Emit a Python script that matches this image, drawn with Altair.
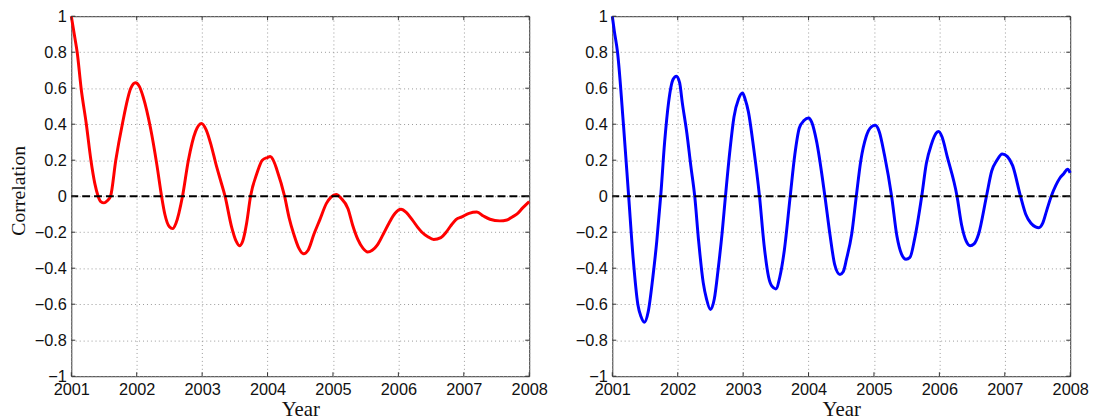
import altair as alt
import pandas as pd

# ---- data ----
red_year = [2001.00, 2001.05, 2001.09, 2001.15, 2001.23, 2001.30, 2001.36, 2001.41, 2001.45, 2001.50,
            2001.55, 2001.60, 2001.68, 2001.78, 2001.91, 2001.98, 2002.04, 2002.10, 2002.21, 2002.31,
            2002.38, 2002.43, 2002.50, 2002.55, 2002.60, 2002.70, 2002.79, 2002.90, 2002.99, 2003.06,
            2003.14, 2003.21, 2003.28, 2003.35, 2003.45, 2003.52, 2003.57, 2003.62, 2003.68, 2003.74,
            2003.84, 2003.92, 2004.00, 2004.04, 2004.10, 2004.14, 2004.26, 2004.33, 2004.40, 2004.48,
            2004.55, 2004.62, 2004.71, 2004.80, 2004.90, 2004.97, 2005.05, 2005.12, 2005.23, 2005.30,
            2005.38, 2005.46, 2005.53, 2005.60, 2005.68, 2005.77, 2005.86, 2005.95, 2006.04, 2006.12,
            2006.21, 2006.29, 2006.36, 2006.45, 2006.54, 2006.65, 2006.73, 2006.80, 2006.88, 2006.97,
            2007.08, 2007.20, 2007.30, 2007.40, 2007.55, 2007.66, 2007.74, 2007.81, 2007.90, 2008.00]
red_corr = [1.00, 0.89, 0.80, 0.60, 0.40, 0.20, 0.07, 0.00, -0.03, -0.037,
            -0.025, 0.00, 0.20, 0.40, 0.60, 0.63, 0.61, 0.55, 0.38, 0.17,
            0.00, -0.10, -0.17, -0.18, -0.15, 0.00, 0.20, 0.36, 0.404, 0.37,
            0.28, 0.18, 0.09, 0.00, -0.17, -0.25, -0.275, -0.25, -0.15, 0.00,
            0.13, 0.20, 0.215, 0.22, 0.19, 0.15, 0.00, -0.12, -0.21, -0.29,
            -0.32, -0.30, -0.21, -0.13, -0.04, -0.005, 0.01, -0.01, -0.07, -0.16,
            -0.24, -0.29, -0.31, -0.30, -0.27, -0.21, -0.147, -0.095, -0.073, -0.09,
            -0.13, -0.17, -0.20, -0.225, -0.24, -0.23, -0.20, -0.165, -0.13, -0.115,
            -0.095, -0.088, -0.11, -0.128, -0.137, -0.132, -0.115, -0.10, -0.065, -0.03]

blue_year = [2001.00, 2001.03, 2001.08, 2001.17, 2001.25, 2001.32, 2001.39, 2001.44, 2001.49, 2001.55,
             2001.62, 2001.68, 2001.74, 2001.80, 2001.86, 2001.93, 2001.98, 2002.03, 2002.07, 2002.14,
             2002.20, 2002.26, 2002.32, 2002.39, 2002.44, 2002.50, 2002.56, 2002.62, 2002.68, 2002.73,
             2002.80, 2002.86, 2002.93, 2002.99, 2003.03, 2003.08, 2003.16, 2003.25, 2003.32, 2003.39,
             2003.44, 2003.50, 2003.56, 2003.63, 2003.72, 2003.79, 2003.86, 2003.93, 2004.00, 2004.05,
             2004.12, 2004.25, 2004.33, 2004.40, 2004.48, 2004.53, 2004.58, 2004.66, 2004.73, 2004.80,
             2004.88, 2004.96, 2005.02, 2005.08, 2005.16, 2005.27, 2005.35, 2005.42, 2005.49, 2005.55,
             2005.62, 2005.73, 2005.80, 2005.88, 2005.95, 2005.99, 2006.04, 2006.12, 2006.27, 2006.34,
             2006.41, 2006.47, 2006.53, 2006.60, 2006.72, 2006.80, 2006.88, 2006.96, 2007.04, 2007.12,
             2007.24, 2007.32, 2007.40, 2007.47, 2007.52, 2007.58, 2007.64, 2007.71, 2007.78, 2007.84,
             2007.90, 2007.96, 2008.00]
blue_corr = [1.00, 0.92, 0.80, 0.40, 0.00, -0.35, -0.60, -0.67, -0.70, -0.64,
             -0.45, -0.25, 0.00, 0.30, 0.52, 0.65, 0.667, 0.63, 0.52, 0.35,
             0.17, 0.00, -0.25, -0.48, -0.57, -0.63, -0.57, -0.40, -0.20, 0.00,
             0.26, 0.44, 0.54, 0.573, 0.54, 0.47, 0.27, 0.00, -0.27, -0.45,
             -0.50, -0.515, -0.45, -0.30, 0.00, 0.23, 0.38, 0.42, 0.435, 0.41,
             0.31, 0.00, -0.22, -0.38, -0.435, -0.42, -0.35, -0.21, 0.00, 0.20,
             0.33, 0.385, 0.394, 0.36, 0.23, 0.00, -0.22, -0.32, -0.35, -0.34,
             -0.24, 0.00, 0.18, 0.29, 0.35, 0.36, 0.33, 0.22, 0.00, -0.16,
             -0.25, -0.275, -0.265, -0.21, 0.00, 0.14, 0.20, 0.235, 0.22, 0.17,
             0.00, -0.10, -0.15, -0.17, -0.175, -0.15, -0.08, 0.00, 0.06, 0.10,
             0.125, 0.15, 0.13]

year_ticks = [2001, 2002, 2003, 2004, 2005, 2006, 2007, 2008]
corr_ticks = [-1.0, -0.8, -0.6, -0.4, -0.2, 0.0, 0.2, 0.4, 0.6, 0.8, 1.0]
zero_level = [0.0]

PW, PH = 463, 364
LABEL_FONT = "Liberation Sans"
TITLE_FONT = "Liberation Serif"

COMMON_AXIS = dict(
    grid=True, ticks=False, domain=False,
    gridDash=[1, 3], gridColor="#999999", gridWidth=1,
    labelOverlap=False, labelFlush=False,
    labelFont=LABEL_FONT, labelFontSize=16.5, labelColor="#111",
    titleFont=TITLE_FONT, titleFontWeight="normal", titleColor="#111",
)


def panel(years, corr, color, with_title):
    df = pd.DataFrame({"year": years, "corr": corr})
    xscale = alt.Scale(domain=[2001, 2008], nice=False, zero=False)
    yscale = alt.Scale(domain=[-1, 1], nice=False, zero=False)
    yaxis_kw = dict(COMMON_AXIS, values=corr_ticks, format=".1~f", minExtent=36,
                    maxExtent=36, labelPadding=5)
    if with_title:
        yaxis_kw.update(title="Correlation", titlePadding=7, titleY=176, titleFontSize=20)
    else:
        yaxis_kw.update(title=None)
    xaxis = alt.Axis(**dict(COMMON_AXIS, values=year_ticks, format="d", title="Year",
                            titleFontSize=21, labelPadding=6, titlePadding=0))
    yaxis = alt.Axis(**yaxis_kw)
    line = alt.Chart(df).mark_line(color=color, strokeWidth=3, interpolate="monotone").encode(
        x=alt.X("year:Q", scale=xscale, axis=xaxis),
        y=alt.Y("corr:Q", scale=yscale, axis=yaxis),
    )
    zero = alt.Chart(pd.DataFrame({"z": zero_level})).mark_rule(
        color="black", strokeWidth=2, strokeDash=[8, 4]).encode(
        y=alt.Y("z:Q", scale=yscale, axis=yaxis))
    xt = pd.DataFrame({"t": year_ticks})
    yt = pd.DataFrame({"t": corr_ticks})
    tick_top = alt.Chart(xt).mark_rule(color="#333").encode(
        x=alt.X("t:Q", scale=xscale, axis=xaxis), y=alt.value(0), y2=alt.value(4))
    tick_bot = alt.Chart(xt).mark_rule(color="#333").encode(
        x=alt.X("t:Q", scale=xscale, axis=xaxis), y=alt.value(PH - 4), y2=alt.value(PH))
    tick_left = alt.Chart(yt).mark_rule(color="#333").encode(
        y=alt.Y("t:Q", scale=yscale, axis=yaxis), x=alt.value(0), x2=alt.value(4))
    tick_right = alt.Chart(yt).mark_rule(color="#333").encode(
        y=alt.Y("t:Q", scale=yscale, axis=yaxis), x=alt.value(PW - 4), x2=alt.value(PW))
    return alt.layer(line, zero, tick_top, tick_bot, tick_left, tick_right).properties(
        width=PW, height=PH)


left = panel(red_year, red_corr, "#ff0000", True)
right = panel(blue_year, blue_corr, "#0000ff", False)

chart = alt.hconcat(left, right, spacing=26).properties(
    padding={"left": 0, "top": -3, "right": 0, "bottom": 0},
    background="white",
).configure_view(
    stroke="#333", strokeWidth=1
).configure_axis(**COMMON_AXIS)

chart.save("out.html", embed_options={"renderer": "svg", "actions": False})
